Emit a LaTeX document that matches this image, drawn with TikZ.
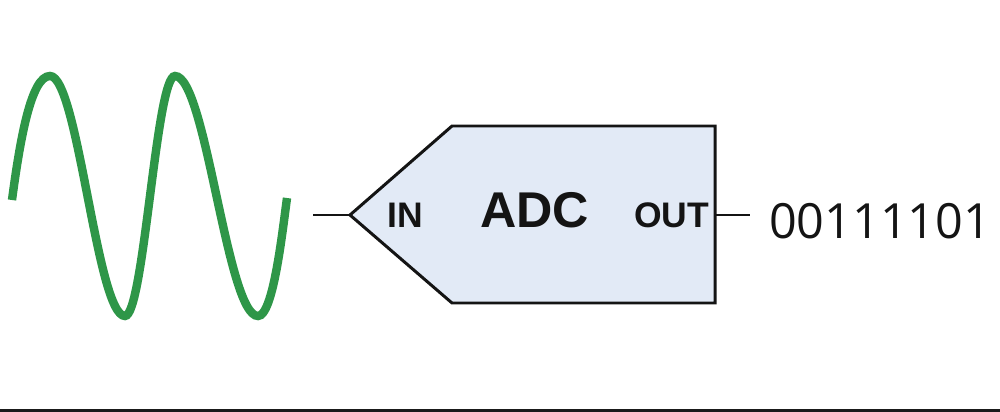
\documentclass[tikz,border=0pt]{standalone}
\usepackage{fontspec}
\setmainfont{Liberation Sans}
\newfontfamily\digitfont{Open Sans}
\definecolor{wavegreen}{RGB}{46,150,72}
\definecolor{adcfill}{RGB}{226,234,246}
\definecolor{edge}{RGB}{20,20,20}
\begin{document}
\begin{tikzpicture}[x=0.02cm,y=-0.02cm,
  outline/.style={draw=edge,line width=1.7pt,line join=miter},
  wire/.style={draw=edge,line width=1.7pt},
  portlbl/.style={font=\fontsize{20.2}{22}\selectfont\bfseries,text=edge,inner sep=0pt,anchor=base},
  titlelbl/.style={font=\fontsize{28.6}{30}\selectfont\bfseries,text=edge,inner sep=0pt,anchor=base},
  bitslbl/.style={font=\digitfont\fontsize{27.6}{30}\selectfont,text=edge,inner sep=0pt,anchor=base}]
\useasboundingbox (0,0) rectangle (1000,412);
% sine wave
\draw[wavegreen,line width=4.8pt,line cap=butt]
  (12,200) .. controls (20,140) and (31,76) .. (50,76)
  .. controls (78,76) and (97,316) .. (125,316)
  .. controls (144,316) and (156,76) .. (175,76)
  .. controls (206,76) and (227,316) .. (258,316)
  .. controls (273,316) and (282,235) .. (287,198);
% ADC block
\coordinate (tip) at (350,215);
\coordinate (tl) at (452,126);
\coordinate (tr) at (715,126);
\coordinate (br) at (715,303);
\coordinate (bl) at (452,303);
\coordinate (outp) at (715,215);
\coordinate (inend) at (313,215);
\coordinate (outend) at (750,215);
\filldraw[outline,fill=adcfill] (tip) -- (tl) -- (tr) -- (br) -- (bl) -- cycle;
\draw[wire] (inend) -- (tip);
\draw[wire] (outp) -- (outend);
\node[portlbl] (inlbl) at (405.5,227) {IN};
\node[titlelbl] (adclbl) at (534.5,227) {ADC};
\node[portlbl] (outlbl) at (671.5,227) {OUT};
\node[bitslbl] (bits) at (880,238) {00111101};
% bottom rule
\coordinate (rl) at (0,410.5);
\coordinate (rr) at (1000,410.5);
\draw[draw={rgb,255:red,26;green,26;blue,26},line width=1.8pt] (rl) -- (rr);
\end{tikzpicture}
\end{document}
